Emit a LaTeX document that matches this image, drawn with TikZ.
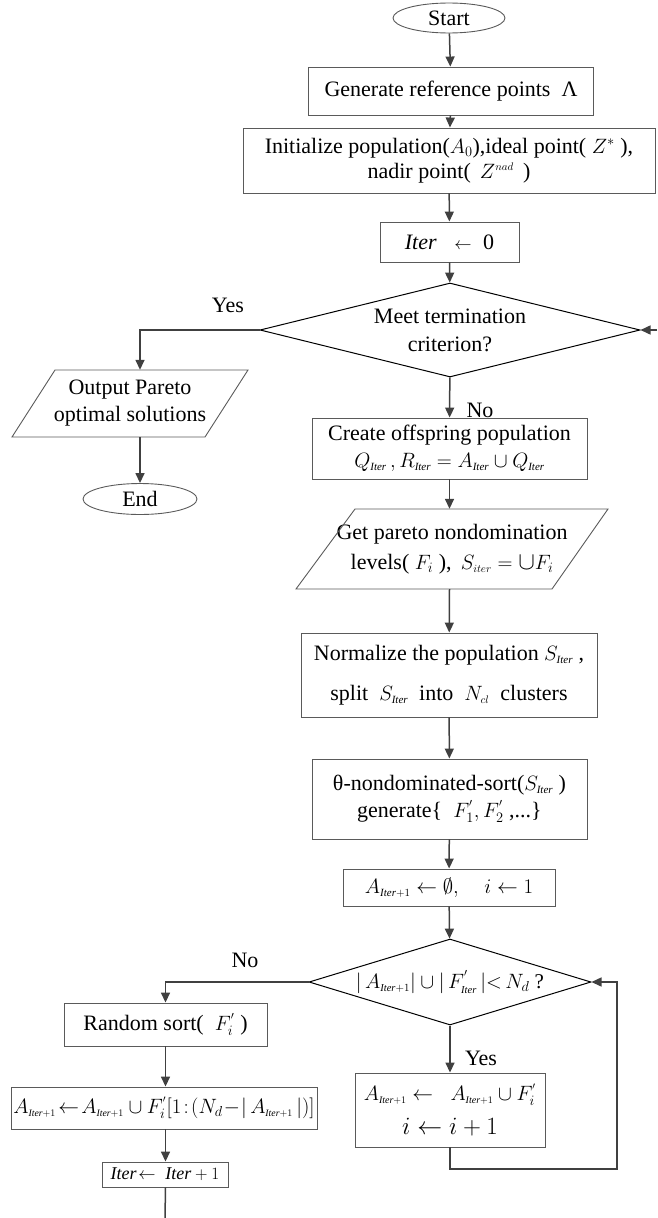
\documentclass[tikz,border=0pt]{standalone}
\usepackage{fontspec}
\setmainfont{Liberation Serif}
\usetikzlibrary{arrows.meta,shapes.geometric,calc}
\definecolor{boxgray}{HTML}{5A5A5A}
\definecolor{arrgray}{HTML}{404040}
\newcommand{\It}{\mathit{Iter}}
\newcommand{\Is}{{\scriptscriptstyle\mathit{Iter}}}
\newcommand{\Ip}{{\scriptscriptstyle\mathit{Iter}+1}}
\newcommand{\Fp}{\mathord{F}^{\scriptscriptstyle '}}
\newcommand{\BigCup}{\mathord{\mbox{\fontsize{30}{30}\selectfont$\cup$}}}
\begin{document}
\begin{tikzpicture}[x=1pt,y=-1pt,
  txt/.style={font=\fontsize{22}{26}\selectfont, align=center, inner sep=0pt},
  procbox/.style={txt, rectangle, draw=boxgray, line width=0.9pt},
  termnode/.style={txt, ellipse, draw=boxgray, line width=0.9pt},
  decnode/.style={txt, diamond, draw=black, line width=1pt},
  arr/.style={draw=arrgray, line width=1.5pt, -{Triangle[length=10pt,width=9pt]}},
  plainline/.style={draw=arrgray, line width=1.5pt},
  lbl/.style={font=\fontsize{22}{24}\selectfont, inner sep=0pt}]
\useasboundingbox (0,0) rectangle (657,1218);

% main column
\node[termnode, minimum width=112pt, minimum height=30pt] (start) at (449,18) {Start};
\node[procbox, minimum width=285pt, minimum height=48pt] (gen) at (451,91) {Generate reference points ~Λ};
\node[procbox, minimum width=412pt, minimum height=65pt, font=\fontsize{22}{25}\selectfont] (init) at (449,160.5)
  {Initialize population($A_0$),ideal point( $Z^{*}$ ),\\nadir point( \,$Z^{\scriptscriptstyle nad}$\, )};
\node[procbox, minimum width=139pt, minimum height=40pt] (iter0) at (449.5,242)
  {$\It$ \;\;{\fontsize{16}{16}\selectfont$\leftarrow$}\; 0};
\node[decnode, minimum width=380pt, minimum height=94pt, aspect=4, font=\fontsize{22}{28}\selectfont] (dec1) at (450,330)
  {Meet termination\\criterion?};
\node[txt, minimum width=193pt, minimum height=67pt, font=\fontsize{22}{27}\selectfont] (out) at (130,403.5)
  {Output Pareto\\optimal solutions};
\draw[boxgray, line width=0.9pt] (12,437) -- (205,437) -- (248,370) -- (55,370) -- cycle;
\node[termnode, minimum width=114pt, minimum height=31pt] (end) at (140,499) {End};

\node[procbox, minimum width=275pt, minimum height=61pt, font=\fontsize{22}{27}\selectfont] (create) at (449.5,448.5)
  {Create offspring population\\$Q_{\Is}\,,R_{\Is}=A_{\Is}\cup Q_{\Is}$};
\node[txt, minimum width=256pt, minimum height=80pt, font=\fontsize{22}{30}\selectfont] (getp) at (452,549)
  {Get pareto nondomination\\levels( $F_i$ ),\, $S_{\scriptscriptstyle iter}=\BigCup F_i$};
\draw[boxgray, line width=0.9pt] (296,589) -- (552,589) -- (608,509) -- (355,509) -- cycle;
\node[procbox, minimum width=296pt, minimum height=84pt, font=\fontsize{22}{40}\selectfont] (norm) at (449,675)
  {Normalize the population $S_{\Is}$ ,\\split~ $S_{\Is}$~ into~ $N_{\scriptscriptstyle cl}$~ clusters};
\node[procbox, minimum width=275pt, minimum height=80pt, font=\fontsize{22}{27}\selectfont] (theta) at (449.5,799)
  {θ-nondominated-sort($S_{\Is}$ )\\generate\{ ~$\Fp_1,\Fp_2$ ,...\}};
\node[procbox, minimum width=212pt, minimum height=37pt] (ainit) at (449,887.5)
  {$A_{\Ip}\leftarrow\emptyset,\quad i\leftarrow 1$};
\node[decnode, minimum width=282pt, minimum height=86pt, aspect=3.3, font=\fontsize{21}{24}\selectfont] (dec2) at (450,982)
  {$|\,A_{\Ip}|\cup|\,\Fp_{\Is}\,|{<}\,N_d$ ?};

\node[procbox, minimum width=203pt, minimum height=43pt] (rand) at (165.5,1024.5)
  {Random sort( ~$\Fp_i$ )};
\node[procbox, minimum width=306pt, minimum height=42pt, font=\fontsize{19.5}{22}\selectfont] (aupd) at (164,1108)
  {$A_{\Ip}\!\leftarrow\! A_{\Ip}\cup \Fp_i[1\!:\!(N_d\!-\!|\,A_{\Ip}\,|)]$};
\node[procbox, minimum width=126pt, minimum height=25pt, font=\fontsize{18}{20}\selectfont] (iter1) at (165,1174.5)
  {$\It\!\leftarrow\;\It+1$};
\node[procbox, minimum width=190pt, minimum height=74pt, font=\fontsize{20}{34}\selectfont] (yesb) at (450,1110)
  {$A_{\Ip}\leftarrow\;\;A_{\Ip}\cup \Fp_i$\\{\fontsize{25}{34}\selectfont$i\leftarrow i+1$}};

% labels
\node[lbl] (yes1) at (228,305) {Yes};
\node[lbl] (no1) at (480,410) {No};
\node[lbl] (no2) at (245,960) {No};
\node[lbl] (yes2) at (481,1058) {Yes};

\coordinate (rin) at (657,330);
\coordinate (loopR) at (617,1169);
\coordinate (bottomend) at (165,1218);

% connectors
\draw[arr] (start) -- (gen);
\draw[arr] (gen) -- (init);
\draw[arr] (init) -- (iter0);
\draw[arr] (iter0) -- (dec1);
\draw[arr] (dec1) -- (create);
\draw[arr] (create) -- (getp.north -| create);
\draw[arr] (getp.south -| create) -- (norm);
\draw[arr] (norm) -- (theta);
\draw[arr] (theta) -- (ainit);
\draw[arr] (ainit) -- (dec2);
\draw[arr] (rin) -- (dec1.east);
\draw[arr] (dec1.west) -| (end |- out.north);
\draw[arr] (end |- out.south) -- (end.north);
\draw[arr] (dec2.west) -| (rand.north);
\draw[arr] (rand.south) -- (rand.south |- aupd.north);
\draw[arr] (rand.south |- aupd.south) -- (rand.south |- iter1.north);
\draw[plainline] (rand.south |- iter1.south) -- (bottomend);
\draw[arr] (dec2.south) -- (yesb.north);
\draw[arr] (yesb.south) |- (loopR) |- (dec2.east);
\end{tikzpicture}
\end{document}
